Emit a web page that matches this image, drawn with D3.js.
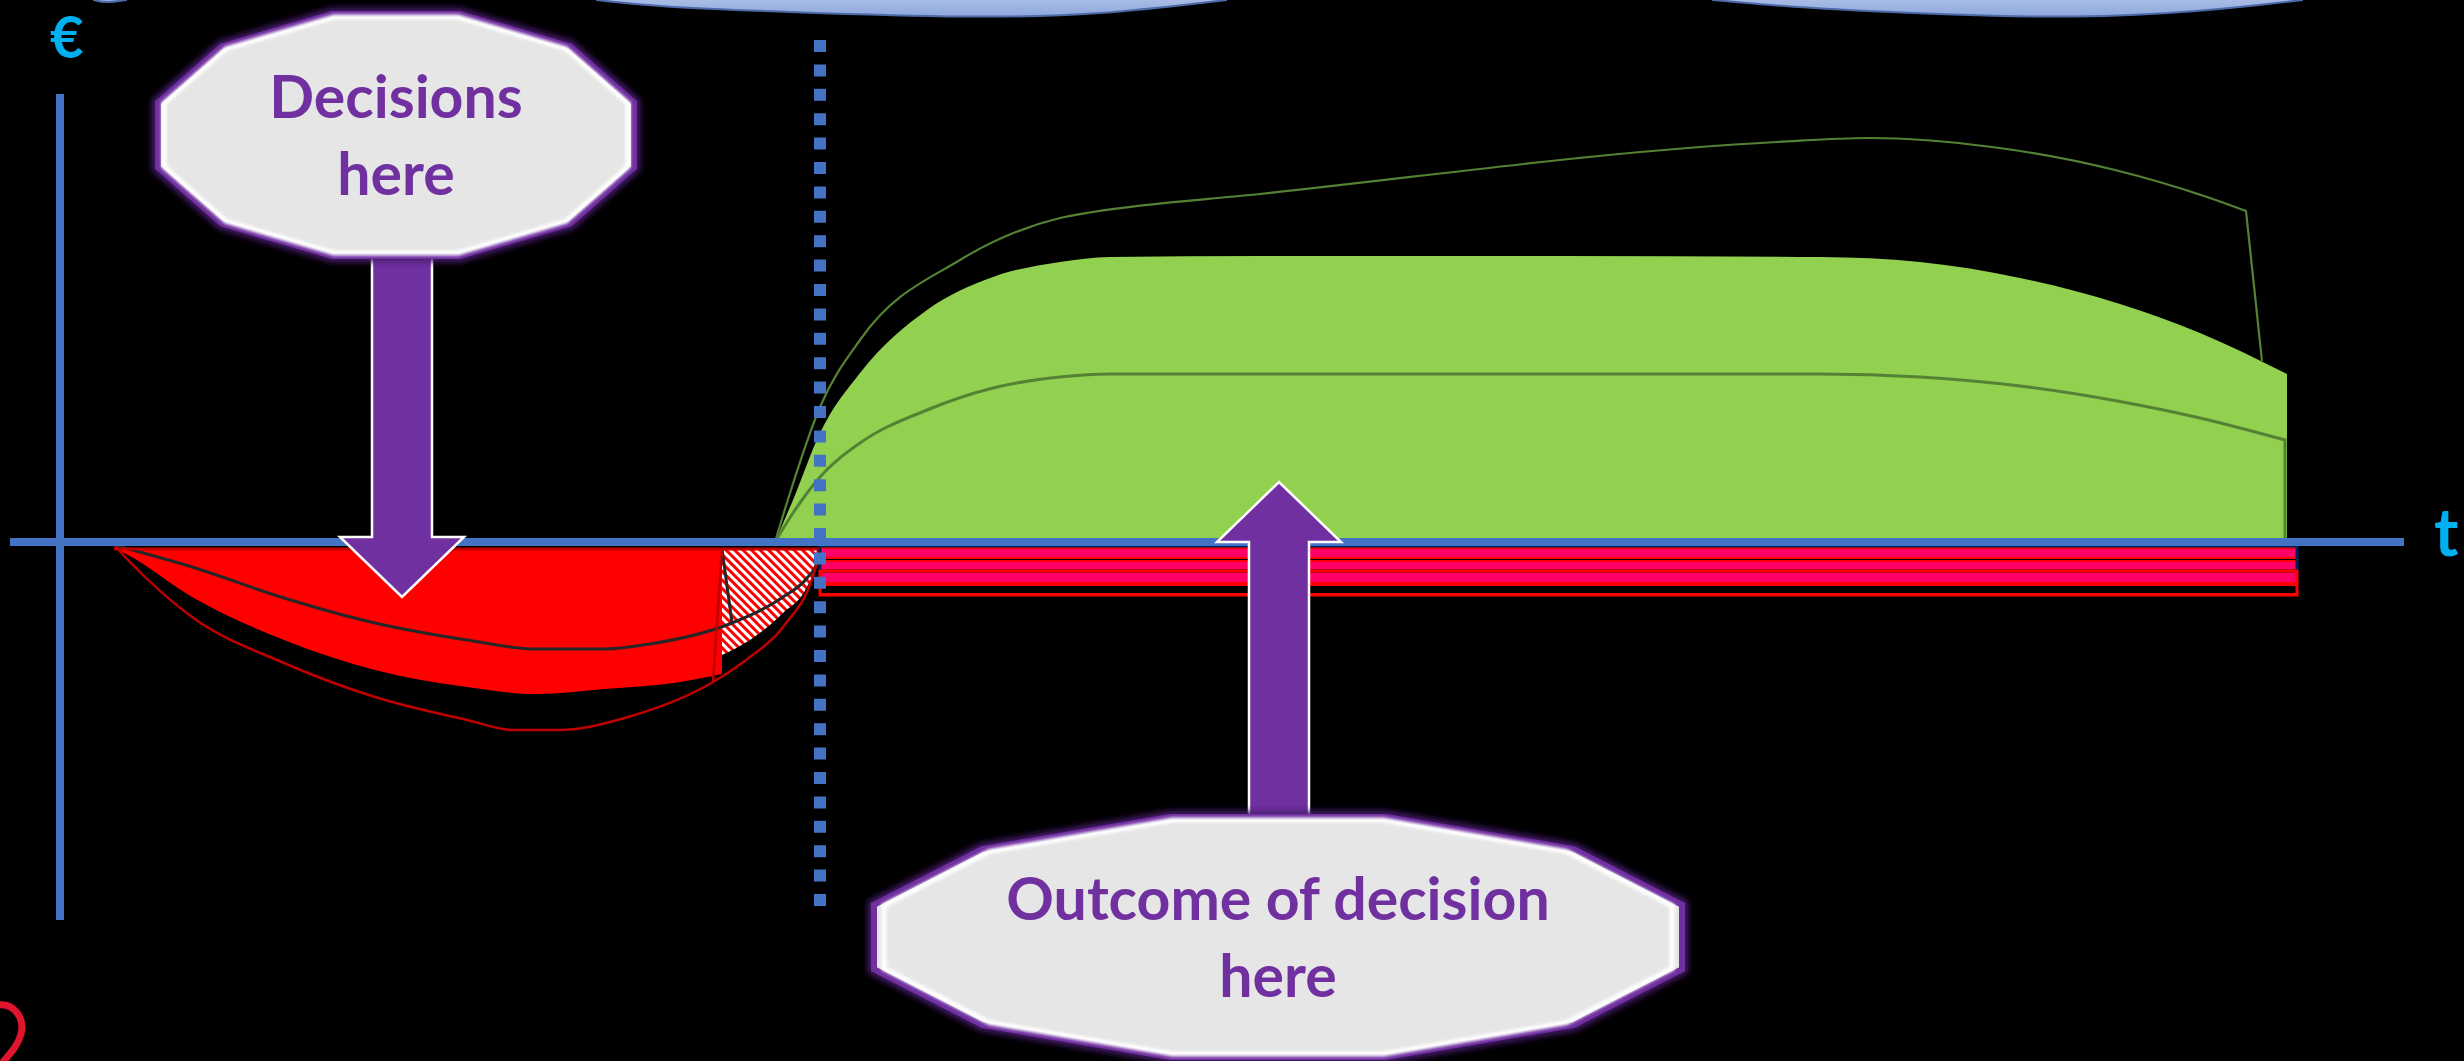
<!DOCTYPE html>
<html lang="en">
<head>
	<meta charset="UTF-8">
	<title>Decisions here - outcome of decision here</title>
	<script src="https://cdn.jsdelivr.net/npm/d3@7"></script>
	<style>
		body {
			margin: 0;
			background: #000;
			overflow: hidden;
		}
		svg {
			display: block;
			background: #000;
		}
		.callout-text {
			font-family: "Lato", "Open Sans", sans-serif;
			font-weight: 700;
			fill: #7030a0;
			text-anchor: middle;
		}
		.axis-label {
			font-family: "Lato", "Open Sans", sans-serif;
			font-weight: 700;
			fill: #00b0f0;
		}
	</style>
</head>
<body>
<script>
	// ---- data (t = time units, v = euro units) ----
	var greenArea = [[71.5, 0], [73.3, 4.2], [76, 10.9], [80, 16.9], [86.7, 23.2], [93.3, 26.5], [100, 28],
		[105, 28.5], [120, 28.6], [150, 28.6], [176, 28.5], [186, 28], [196, 26.4], [206, 23.8],
		[214, 20.9], [222.7, 16.8]];
	var upperLine = [[71.5, 0], [73, 4.9], [76, 13.5], [80, 20.2], [90, 28.2], [100, 32.4], [103.3, 33],
		[120, 34.8], [171.7, 40], [180.9, 40.4], [193.2, 39.5], [205.5, 37.2], [214.7, 34.5], [218.6, 33.1]];
	var upperLineEnd = [220.2, 18.1];
	var lowerLine = [[71.5, 0], [73.3, 2.9], [76, 6.5], [80, 9.9], [86.7, 13.2], [93.3, 15.4], [100, 16.5],
		[105, 16.8], [176, 16.8], [186, 16.5], [196, 15.6], [206, 14.05], [214, 12.4], [222.5, 10.2]];
	var redArea = [[5.4, -0.6], [6.8, -1.3], [13.2, -5.5], [22.4, -9.8], [31.5, -12.8], [40.7, -14.5],
		[47.6, -15.2], [54.5, -14.7], [61.4, -14.1], [66.2, -13.2]];
	var hatchArea = [[66.2, -11.3], [69, -9.8], [72.3, -7.1], [74.7, -4.5], [75.7, -2.1], [75.8, -0.8]];
	var greyLine = [[5.4, -0.3], [13.2, -2.5], [22.4, -5.6], [31.5, -8.1], [40.7, -9.8], [47.6, -10.7],
		[54.5, -10.7], [59, -10.2], [67.2, -8.1], [72.3, -5.5], [74.7, -3.6], [75.7, -2.1], [76, -0.8]];
	var darkRedLine = [[5.4, -0.3], [6.8, -1.8], [13.2, -7.5], [22.4, -12.1], [31.5, -15.5], [40.7, -17.8],
		[45.3, -18.8], [49.9, -18.8], [56.8, -17.5], [65.3, -14], [69, -11.5], [72.3, -8.5], [75.7, -2.1], [75.8, -0.7]];
	var redTop = -0.7;
	var decisionT = 76;          // the dotted line
	var horizonEnd = 223.7;      // end of the cost bars
	var costBars = [[-0.6, -1.6], [-1.9, -2.8], [-3.0, -4.1], [-4.3, -5.2]];
	var barGroups = [[-0.4, -2.9], [-2.9, -5.3]];
	var bannerLobes = [
		[[3.4, 54.2], [4.5, 53.9], [6.6, 54.2]],
		[[53.7, 54.2], [60, 53.5], [72.6, 53], [91.4, 52.4], [104, 52.7], [116.6, 54.2]],
		[[165.3, 54.2], [174, 53.4], [189, 52.7], [201.4, 52.4], [214, 53], [224.2, 54.2]]
	];
	var callouts = [
		{ t: 33.6, v: 40.7, hw: 23.8, hh: 12.1, lines: ["Decisions", "here"] },
		{ t: 121.8, v: -39.5, hw: 40.4, hh: 12.0, lines: ["Outcome of decision", "here"] }
	];
	var arrows = [
		{ t: 34.2, from: 28.5, head: 0.5, tip: -5.5 },
		{ t: 121.9, from: -28, head: 0, tip: 6 }
	];

	var width = 2464,
		height = 1061;

	var x = d3.scaleLinear().domain([0, 240]).range([60, 2460]);
	var y = d3.scaleLinear().domain([-50, 50]).range([1042, 42]);

	var svg = d3.select("body").append("svg")
		.attr("width", width)
		.attr("height", height);

	var defs = svg.append("defs");

	var grad = defs.append("linearGradient").attr("id", "banner")
		.attr("x1", 0).attr("y1", 0).attr("x2", 0).attr("y2", 1);
	grad.append("stop").attr("offset", "0%").attr("stop-color", "#c5d3ee");
	grad.append("stop").attr("offset", "100%").attr("stop-color", "#8ea7dc");

	var hatch = defs.append("pattern").attr("id", "hatch")
		.attr("patternUnits", "userSpaceOnUse")
		.attr("width", 6).attr("height", 6)
		.attr("patternTransform", "rotate(-45)");
	hatch.append("rect").attr("width", 6).attr("height", 6).attr("fill", "#ff0000");
	hatch.append("rect").attr("width", 3).attr("height", 6).attr("fill", "#ffffff");

	var glow = defs.append("filter").attr("id", "glow")
		.attr("x", "-10%").attr("y", "-10%").attr("width", "120%").attr("height", "120%");
	glow.append("feGaussianBlur").attr("stdDeviation", 3);
	var soft = defs.append("filter").attr("id", "soft");
	soft.append("feGaussianBlur").attr("stdDeviation", 1.5);

	var lineGen = d3.line()
		.x(function (d) { return x(d[0]); })
		.y(function (d) { return y(d[1]); })
		.curve(d3.curveMonotoneX);

	// banner at the top
	svg.selectAll(".lobe")
		.data(bannerLobes)
		.enter().append("path")
		.attr("class", "lobe")
		.attr("d", d3.area()
			.x(function (d) { return x(d[0]); })
			.y0(y(56))
			.y1(function (d) { return y(d[1]); })
			.curve(d3.curveBasis))
		.attr("fill", "url(#banner)")
		.attr("stroke", "#4d6aa8")
		.attr("stroke-width", 2);

	// green benefit area
	svg.append("path")
		.datum(greenArea)
		.attr("d", d3.area()
			.x(function (d) { return x(d[0]); })
			.y0(y(0))
			.y1(function (d) { return y(d[1]); })
			.curve(d3.curveMonotoneX))
		.attr("fill", "#92d050");

	svg.append("path")
		.attr("d", lineGen(upperLine) + "L" + x(upperLineEnd[0]) + "," + y(upperLineEnd[1]))
		.attr("fill", "none")
		.attr("stroke", "#548235")
		.attr("stroke-width", 2.2);

	var lastLow = lowerLine[lowerLine.length - 1];
	svg.append("path")
		.attr("d", lineGen(lowerLine) + "L" + x(lastLow[0]) + "," + y(0))
		.attr("fill", "none")
		.attr("stroke", "#548235")
		.attr("stroke-width", 3);

	// red cost area
	var redAreaGen = d3.area()
		.x(function (d) { return x(d[0]); })
		.y0(y(redTop))
		.y1(function (d) { return y(d[1]); })
		.curve(d3.curveMonotoneX);

	svg.append("path").datum(redArea)
		.attr("d", redAreaGen)
		.attr("fill", "#ff0000");

	svg.append("path").datum(hatchArea)
		.attr("d", redAreaGen)
		.attr("fill", "url(#hatch)");

	svg.append("path")
		.attr("d", lineGen(greyLine))
		.attr("fill", "none")
		.attr("stroke", "#262626")
		.attr("stroke-width", 3);

	svg.append("path")
		.attr("d", lineGen(darkRedLine))
		.attr("fill", "none")
		.attr("stroke", "#c00000")
		.attr("stroke-width", 2.5);

	var hStart = hatchArea[0][0];
	svg.append("line")
		.attr("x1", x(hStart)).attr("y1", y(redTop))
		.attr("x2", x(67.2)).attr("y2", y(-8.1))
		.attr("stroke", "#262626").attr("stroke-width", 3);
	svg.append("line")
		.attr("x1", x(hStart)).attr("y1", y(redTop))
		.attr("x2", x(65.3)).attr("y2", y(-14))
		.attr("stroke", "#c00000").attr("stroke-width", 2.5);
	svg.append("line")
		.attr("x1", x(redArea[0][0])).attr("y1", y(redTop))
		.attr("x2", x(decisionT)).attr("y2", y(redTop))
		.attr("stroke", "#c00000").attr("stroke-width", 3);

	// cost bars after the decision
	svg.selectAll(".cost-bar")
		.data(costBars)
		.enter().append("rect")
		.attr("class", "cost-bar")
		.attr("x", x(decisionT))
		.attr("y", function (d) { return y(d[0]); })
		.attr("width", x(horizonEnd) - x(decisionT))
		.attr("height", function (d) { return y(d[1]) - y(d[0]); })
		.attr("fill", function (d, i) { return i < 3 ? "#ff0066" : "#000"; })
		.attr("stroke", "#ff0000")
		.attr("stroke-width", 2);

	svg.selectAll(".bar-group")
		.data(barGroups)
		.enter().append("rect")
		.attr("class", "bar-group")
		.attr("x", x(decisionT))
		.attr("y", function (d) { return y(d[0]); })
		.attr("width", x(horizonEnd) - x(decisionT))
		.attr("height", function (d) { return y(d[1]) - y(d[0]); })
		.attr("fill", "none")
		.attr("stroke", function (d, i) { return i === 0 ? "#002060" : "#ff0000"; })
		.attr("stroke-width", 3);

	// axes
	svg.append("line")
		.attr("x1", x(-5)).attr("y1", y(0))
		.attr("x2", x(234.4)).attr("y2", y(0))
		.attr("stroke", "#4472c4").attr("stroke-width", 8);
	svg.append("line")
		.attr("x1", x(0)).attr("y1", y(44.8))
		.attr("x2", x(0)).attr("y2", y(-37.8))
		.attr("stroke", "#4472c4").attr("stroke-width", 8);

	svg.append("line")
		.attr("x1", x(decisionT)).attr("y1", y(50.2))
		.attr("x2", x(decisionT)).attr("y2", y(-37.6))
		.attr("stroke", "#4472c4")
		.attr("stroke-width", 12)
		.attr("stroke-dasharray", "12,12.4");

	svg.append("text").attr("class", "axis-label")
		.attr("x", 50).attr("y", 58)
		.style("font-size", "58px")
		.text("€");
	svg.append("text").attr("class", "axis-label")
		.attr("x", 2434).attr("y", 556)
		.style("font-size", "66px")
		.text("t");

	// arrows
	svg.selectAll(".arrow")
		.data(arrows)
		.enter().append("polygon")
		.attr("class", "arrow")
		.attr("points", function (d) {
			var sw = 3.0, hw = 6.2;
			return [[d.t - sw, d.from], [d.t + sw, d.from], [d.t + sw, d.head], [d.t + hw, d.head],
				[d.t, d.tip], [d.t - hw, d.head], [d.t - sw, d.head]]
				.map(function (p) { return x(p[0]) + "," + y(p[1]); }).join(" ");
		})
		.attr("fill", "#7030a0")
		.attr("stroke", "#ffffff")
		.attr("stroke-width", 2.5);

	// callouts
	function dodecagon(d, k) {
		var rx = (x(d.hw) - x(0)) * k / Math.cos(Math.PI / 12),
			ry = (y(0) - y(d.hh)) * k / Math.cos(Math.PI / 12),
			cx = x(d.t), cy = y(d.v);
		return d3.range(12).map(function (i) {
			var a = (15 + 30 * i) * Math.PI / 180;
			return (cx + rx * Math.cos(a)) + "," + (cy - ry * Math.sin(a));
		}).join(" ");
	}

	var co = svg.selectAll(".callout")
		.data(callouts)
		.enter().append("g")
		.attr("class", "callout");

	co.append("polygon")
		.attr("points", function (d) { return dodecagon(d, 1); })
		.attr("fill", "none")
		.attr("stroke", "#4a1f70")
		.attr("stroke-width", 12)
		.attr("filter", "url(#glow)");
	co.append("polygon")
		.attr("points", function (d) { return dodecagon(d, 1); })
		.attr("fill", "#e6e6e6")
		.attr("stroke", "#7030a0")
		.attr("stroke-width", 6);
	co.append("polygon")
		.attr("points", function (d) { return dodecagon(d, 0.975); })
		.attr("fill", "none")
		.attr("stroke", "#ffffff")
		.attr("stroke-width", 5)
		.attr("filter", "url(#soft)");

	co.each(function (d) {
		var g = d3.select(this);
		d.lines.forEach(function (s, i) {
			g.append("text")
				.attr("class", "callout-text")
				.attr("x", x(d.t))
				.attr("y", y(d.v) + (i === 0 ? -17 : 60))
				.style("font-size", "59px")
				.text(s);
		});
	});

	// red stroke in the lower-left corner
	svg.append("path")
		.attr("d", "M-2,1005 C14,1003 25,1018 21,1034 C18,1046 9,1055 2,1063")
		.attr("fill", "none")
		.attr("stroke", "#e0152d")
		.attr("stroke-width", 7);
</script>
</body>
</html>
